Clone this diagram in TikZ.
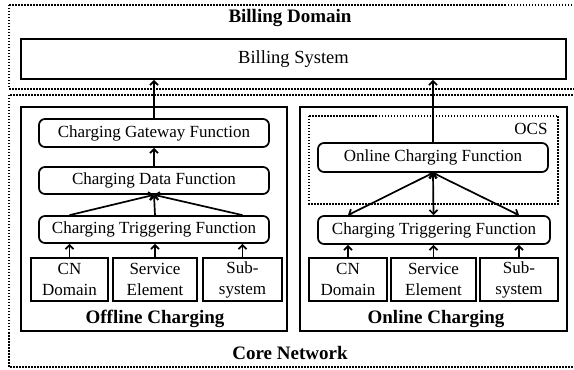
\documentclass[tikz,border=0pt]{standalone}
\usepackage{fontspec}
\setmainfont{Liberation Serif}
\usetikzlibrary{arrows.meta}
\begin{document}
\begin{tikzpicture}[x=1pt,y=1pt,
  txt/.style={font=\fontsize{17}{21}\selectfont},
  solidbox/.style={draw,line width=1.7pt,inner sep=0pt,txt,align=center},
  funcbox/.style={solidbox,rounded corners=6pt},
  frame/.style={draw,line width=1.7pt},
  dotbox/.style={draw,line width=1.4pt,dash pattern=on 1.5pt off 1.5pt},
  title/.style={font=\fontsize{19}{22}\selectfont\bfseries},
  tip/.style={},
  arr/.style={line width=1.7pt,-{Straight Barb[length=4pt,width=8pt,line width=1.7pt]}},
  barr/.style={line width=1.7pt,{Straight Barb[length=4pt,width=8pt,line width=1.7pt]}-{Straight Barb[length=4pt,width=8pt,line width=1.7pt]}}
]
\clip (0,0) rectangle (574,370);
\fill[white] (0,0) rectangle (574,370);
% dotted domains
\draw[dotbox] (9,365) rectangle (580,281);
\draw[dotbox] (9,275) rectangle (580,3);
\node[title] (bd) at (290,352) {Billing Domain};
\node[title] (cnw) at (290,17) {Core Network};
% billing system
\node[solidbox,minimum width=545pt,minimum height=40pt,font=\fontsize{18.5}{21}\selectfont] (bill) at (293.5,311) {Billing System};
% offline / online frames
\draw[frame] (21,263) rectangle (287,39);
\draw[frame] (300,263) rectangle (567,39);
\node[title] (offl) at (155,51) {Offline Charging};
\node[title] (onl) at (436,51) {Online Charging};
% OCS
\draw[dotbox] (309,254) rectangle (558,166);
\node[txt,anchor=east] (ocs) at (551,241) {OCS};
% offline functions
\node[funcbox,minimum width=230pt,minimum height=28pt] (cgf) at (154,237) {Charging Gateway Function};
\node[funcbox,minimum width=230pt,minimum height=27pt] (cdf) at (154,189.5) {Charging Data Function};
\node[funcbox,minimum width=230pt,minimum height=27pt] (ctf1) at (154,140.5) {Charging Triggering Function};
% online functions
\node[funcbox,minimum width=230pt,minimum height=29pt] (ocf) at (433,212.5) {Online Charging Function};
\node[funcbox,minimum width=232pt,minimum height=28pt] (ctf2) at (434,140) {Charging Triggering Function};
% bottom boxes offline
\node[solidbox,minimum width=77pt,minimum height=43pt] (cn1) at (69.5,90.5) {CN\\Domain};
\node[solidbox,minimum width=84pt,minimum height=43pt] (se1) at (155,90.5) {Service\\Element};
\node[solidbox,minimum width=79pt,minimum height=43pt] (ss1) at (242.5,90.5) {Sub-\\system};
% bottom boxes online
\node[solidbox,minimum width=78pt,minimum height=43pt] (cn2) at (348,90.5) {CN\\Domain};
\node[solidbox,minimum width=85pt,minimum height=43pt] (se2) at (433.5,90.5) {Service\\Element};
\node[solidbox,minimum width=78pt,minimum height=43pt] (ss2) at (519,90.5) {Sub-\\system};
% arrows offline
\foreach \b in {cn1,se1,ss1}{
  \draw[arr] (\b.north) -- (\b.north |- ctf1.south);
  \draw[arr] (\b.north |- ctf1.north) -- (cdf.south);
}
\draw[arr] (cdf.north) -- (cgf.south);
\draw[arr] (cgf.north) -- (cgf.north |- bill.south);
% arrows online
\foreach \b in {cn2,se2,ss2}{
  \draw[arr] (\b.north) -- (\b.north |- ctf2.south);
  \draw[barr] (\b.north |- ctf2.north) -- (ocf.south);
}
\draw[arr] (ocf.north) -- (ocf.north |- bill.south);
\end{tikzpicture}
\end{document}
